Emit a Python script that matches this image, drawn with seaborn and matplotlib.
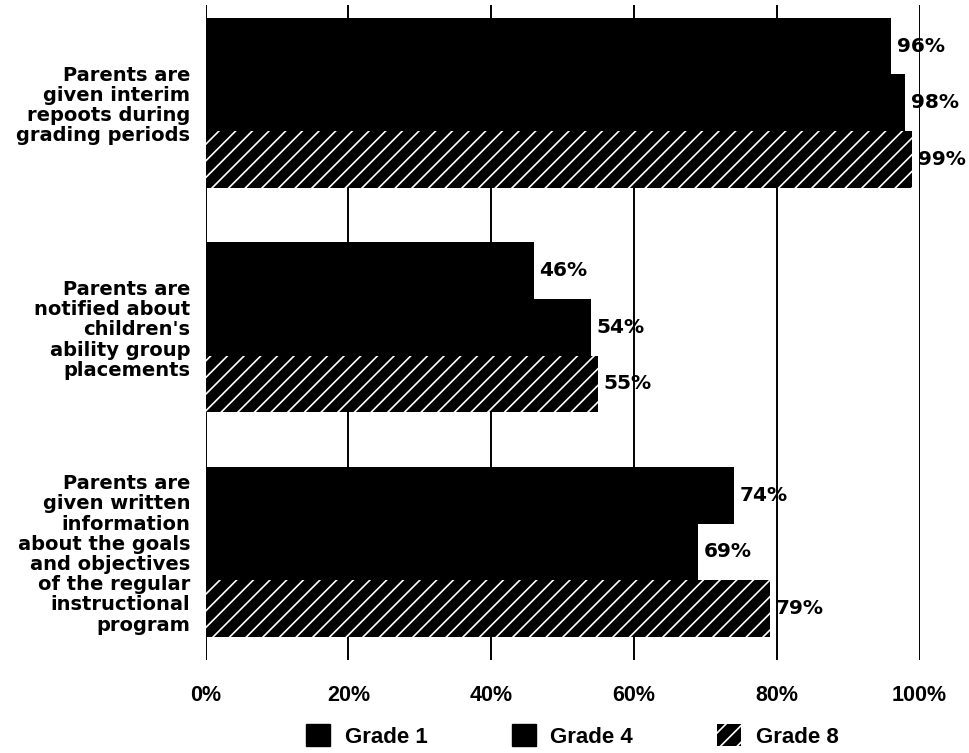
import matplotlib
matplotlib.use("Agg")
import matplotlib.pyplot as plt
import seaborn as sns
import pandas as pd
from matplotlib.patches import Patch

categories = [
    "Parents are\ngiven interim\nrepoots during\ngrading periods",
    "Parents are\nnotified about\nchildren's\nability group\nplacements",
    "Parents are\ngiven written\ninformation\nabout the goals\nand objectives\nof the regular\ninstructional\nprogram",
]
grades = ["Grade 1", "Grade 4", "Grade 8"]
grade1 = [96, 46, 74]
grade4 = [98, 54, 69]
grade8 = [99, 55, 79]
xticks = [0, 20, 40, 60, 80, 100]
xtick_labels = ["0%", "20%", "40%", "60%", "80%", "100%"]

rows = []
for g, vals in zip(grades, [grade1, grade4, grade8]):
    for c, v in zip(categories, vals):
        rows.append({"category": c, "grade": g, "value": v})
df = pd.DataFrame(rows)

sns.set_theme(style="white")
plt.rcParams["font.family"] = ["DejaVu Sans"]
plt.rcParams["text.color"] = "black"
plt.rcParams["xtick.color"] = "black"
plt.rcParams["ytick.color"] = "black"
plt.rcParams["hatch.linewidth"] = 1.2

fig = plt.figure(figsize=(9.7, 7.53), dpi=100)
ax = fig.add_axes([0.212, 0.1235, 0.736, 0.870])

sns.barplot(data=df, y="category", x="value", hue="grade", order=categories,
            hue_order=grades, palette=["black", "black", "black"],
            width=0.756, dodge=True, orient="h", ax=ax, legend=False,
            saturation=1, linewidth=0, zorder=2)

# hatch Grade 8
for p in ax.containers[2]:
    p.set_hatch("//")
    p.set_edgecolor("white")
    p.set_linewidth(0)

for cont in ax.containers:
    ax.bar_label(cont, labels=[f"{int(v)}%" for v in cont.datavalues],
                 padding=4, fontsize=14.5, fontweight="bold", color="black",
                 family="DejaVu Sans")

ax.set_xlim(0, 100)
ax.set_ylim(2.482, -0.436)
ax.set_xticks(xticks)
ax.set_xticklabels(xtick_labels, fontsize=15.5, fontweight="bold",
                   family="Liberation Sans", color="black")
ax.tick_params(axis="x", length=0, pad=18)
ax.tick_params(axis="y", length=0, pad=11)
for lbl in ax.get_yticklabels():
    lbl.set_fontsize(14)
    lbl.set_fontweight("bold")
    lbl.set_family("DejaVu Sans")
    lbl.set_linespacing(1.08)
    lbl.set_color("black")
    lbl.set_horizontalalignment("right")
ax.set_xlabel("")
ax.set_ylabel("")
for s in ax.spines.values():
    s.set_visible(False)
ax.grid(False)
for x in xticks:
    ax.axvline(x, color="black", linewidth=1.4, zorder=1)

handles = [
    Patch(facecolor="black", edgecolor="black", label="Grade 1"),
    Patch(facecolor="black", edgecolor="black", label="Grade 4"),
    Patch(facecolor="black", edgecolor="white", hatch="//", linewidth=0, label="Grade 8"),
]
leg = fig.legend(handles=handles, loc="center", bbox_to_anchor=(0.59, 0.0225), ncol=3,
                 frameon=False, handlelength=1.08, handleheight=1.1, handletextpad=0.65,
                 columnspacing=3.8, borderaxespad=0, borderpad=0,
                 prop={"family": "Liberation Sans", "weight": "bold", "size": 16})
for t in leg.get_texts():
    t.set_color("black")

fig.savefig("out.png", dpi=100)
